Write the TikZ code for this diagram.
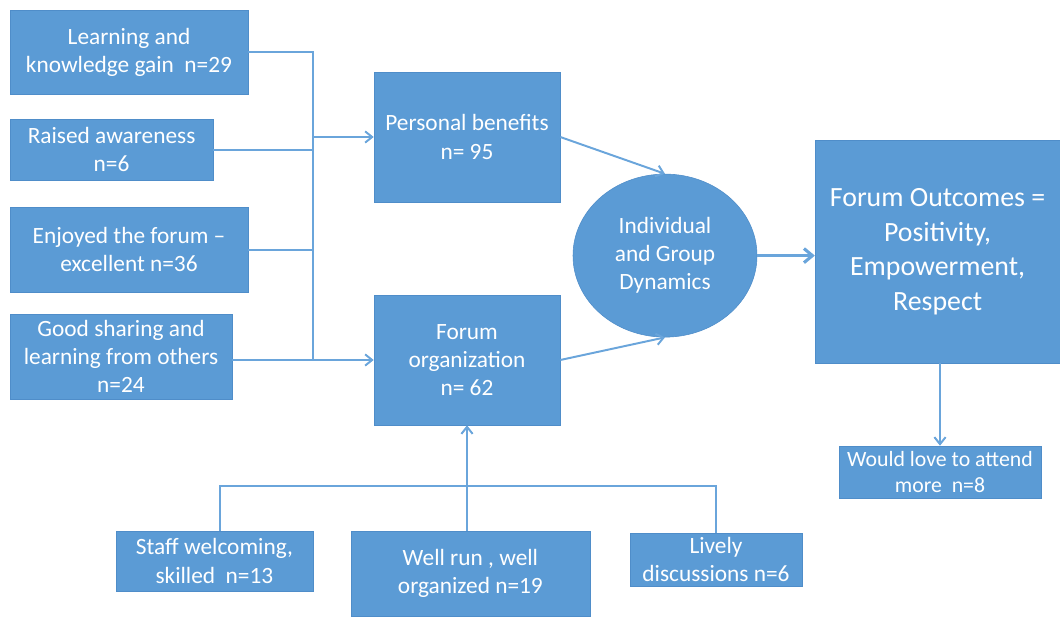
\documentclass[tikz,border=0pt]{standalone}
\usepackage{fontspec}
\setmainfont{Carlito}
\usetikzlibrary{arrows.meta, shapes.geometric}

\definecolor{boxblue}{HTML}{5B9BD5}
\definecolor{edgeblue}{HTML}{4F8DC9}
\definecolor{lineblue}{HTML}{6AA5DB}

\begin{document}
\begin{tikzpicture}[
  box/.style={rectangle, draw=edgeblue, fill=boxblue, text=white, align=center, inner sep=2pt,
    font=\fontsize{16.6}{20}\selectfont},
  bigbox/.style={box, font=\fontsize{19.8}{24.6}\selectfont},
  blob/.style={ellipse, draw=edgeblue, fill=boxblue, text=white, align=center, inner sep=0pt,
    font=\fontsize{16.6}{20}\selectfont},
  link/.style={lineblue, line width=1.4pt},
  arrow/.style={link, -{Straight Barb[length=5pt, width=8pt]}},
  fatarrow/.style={lineblue, line width=2.2pt, -{Straight Barb[length=6pt, width=10pt]}}
]
\useasboundingbox (0,0) rectangle (26.5,15.4);

% ------------------------------------------------------------
% Feedback themes
% ------------------------------------------------------------

\node[box, minimum width=5.95cm, minimum height=2.1cm] (learn) at (3.225,14.1) {Learning and\\knowledge gain~~n=29};
\node[box, minimum width=5.075cm, minimum height=1.525cm] (aware) at (2.79,11.66) {Raised awareness\\n=6};
\node[box, minimum width=5.95cm, minimum height=2.125cm] (enjoy) at (3.225,9.16) {Enjoyed the forum --\\excellent n=36};
\node[box, minimum width=5.55cm, minimum height=2.125cm] (share) at (3.025,6.49) {Good sharing and\\learning from others\\n=24};

\coordinate (jtop) at (7.825,14.1);
\coordinate (jbot) at (7.825,6.4);

% ------------------------------------------------------------
% Categories
% ------------------------------------------------------------

\node[box, minimum width=4.65cm, minimum height=3.25cm] (benefit) at (11.675,11.975) {Personal benefits\\n= 95};
\node[box, minimum width=4.65cm, minimum height=3.25cm] (organ) at (11.675,6.4) {Forum\\organization\\n= 62};

\draw[link] (learn.east |- jtop) -- (jtop) -- (jbot);
\draw[link] (aware.east) -- (aware.east -| jtop);
\draw[link] (enjoy.east) -- (enjoy.east -| jtop);
\draw[arrow] (benefit.west -| jtop) -- (benefit.west);
\draw[arrow] (share.east |- organ.west) -- (organ.west);

% ------------------------------------------------------------
% Dynamics and outcomes
% ------------------------------------------------------------

\node[blob, minimum width=4.6cm, minimum height=4.075cm] (dyn) at (16.625,9.01) {Individual\\and Group\\Dynamics};
\node[bigbox, minimum width=6.125cm, minimum height=5.575cm] (outcome) at (23.44,9.11) {Forum Outcomes =\\Positivity,\\Empowerment,\\Respect};
\node[box, minimum width=5.05cm, minimum height=1.3cm, font=\fontsize{15.5}{18.5}\selectfont] (attend) at (23.5,3.6) {Would love to attend\\more~~n=8};

\draw[arrow] (benefit.east) -- (dyn.north);
\draw[arrow] (organ.east) -- (dyn.south);
\draw[fatarrow] (dyn.east) -- (dyn.east -| outcome.west);
\draw[arrow] (attend.north |- outcome.south) -- (attend.north);

% ------------------------------------------------------------
% Organization themes
% ------------------------------------------------------------

\node[box, minimum width=4.925cm, minimum height=1.5cm] (staff) at (5.36,1.375) {Staff welcoming,\\skilled~~n=13};
\node[box, minimum width=5.975cm, minimum height=2.125cm] (wellrun) at (11.76,1.06) {Well run , well\\organized n=19};
\node[box, minimum width=4.3cm, minimum height=1.325cm] (lively) at (17.9,1.41) {Lively\\discussions n=6};

\coordinate (busL) at (5.5,3.25);
\coordinate (busR) at (17.9,3.25);

\draw[link] (busL |- staff.north) -- (busL) -- (busR) -- (lively.north);
\draw[arrow] (organ.south |- wellrun.north) -- (organ.south);

\end{tikzpicture}
\end{document}
